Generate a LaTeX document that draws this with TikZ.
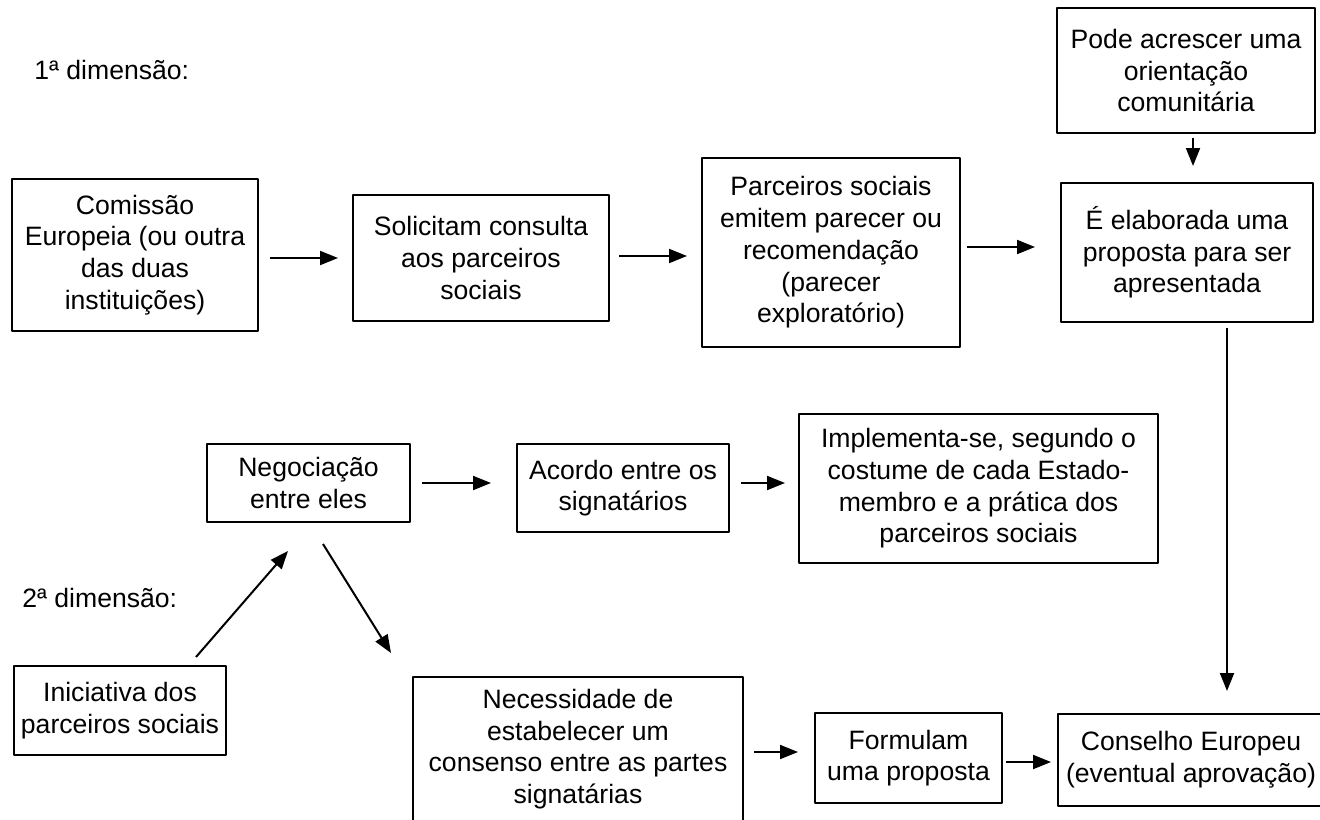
\documentclass[tikz,border=0pt]{standalone}
\usepackage{fontspec}
\setmainfont{Liberation Sans}
\usetikzlibrary{arrows.meta}

\tikzset{
  caixa/.style={draw, line width=1pt, align=center, inner sep=0pt, font=\fontsize{13.3}{15.85}\selectfont},
  seta/.style={->, line width=1pt},
  rotulo/.style={anchor=west, inner sep=0pt, font=\fontsize{13.3}{15.85}\selectfont}
}

\begin{document}
\begin{tikzpicture}[line join=round,>={Triangle[length=9pt,width=7pt]},x=0.5pt,y=-0.5pt]
\useasboundingbox (0,0) rectangle (1320,819);
\clip (0,0) rectangle (1320,819);
% 1a dimensao
\node[rotulo] (dim1) at (34,70) {1ª dimensão:};
\node[caixa, minimum width=123pt, minimum height=76pt] (comissao) at (135,255) {Comissão\\Europeia (ou outra\\das duas\\instituições)};
\node[caixa, minimum width=128pt, minimum height=63pt] (solicitam) at (481,258) {Solicitam consulta\\aos parceiros\\sociais};
\node[caixa, minimum width=129pt, minimum height=94.5pt] (parceiros) at (831,252.5) {Parceiros sociais\\emitem parecer ou\\recomendação\\(parecer\\exploratório)};
\node[caixa, minimum width=129pt, minimum height=62.5pt] (pode) at (1186,70.5) {Pode acrescer uma\\orientação\\comunitária};
\node[caixa, minimum width=126pt, minimum height=69.5pt] (elaborada) at (1187,252.5) {É elaborada uma\\proposta para ser\\apresentada};
% 2a dimensao
\node[rotulo] (dim2) at (22,598) {2ª dimensão:};
\node[caixa, minimum width=101.5pt, minimum height=39pt] (negociacao) at (308.5,483) {Negociação\\entre eles};
\node[caixa, minimum width=106pt, minimum height=44pt] (acordo) at (623,488) {Acordo entre os\\signatários};
\node[caixa, minimum width=179.5pt, minimum height=74.5pt] (implementa) at (978.5,488.5) {Implementa-se, segundo o\\costume de cada Estado-\\membro e a prática dos\\parceiros sociais};
\node[caixa, minimum width=106pt, minimum height=44.5pt] (iniciativa) at (120,710.5) {Iniciativa dos\\parceiros sociais};
\node[caixa, minimum width=165pt, minimum height=72pt] (necessidade) at (578,749) {Necessidade de\\estabelecer um\\consenso entre as partes\\signatárias};
\node[caixa, minimum width=93.5pt, minimum height=45pt] (formulam) at (908.5,758) {Formulam\\uma proposta};
\node[caixa, minimum width=133pt, minimum height=46pt] (conselho) at (1191,760) {Conselho Europeu\\(eventual aprovação)};
% setas
\draw[seta, shorten <=5.5pt, shorten >=7pt] (comissao.east |- solicitam.west) -- (solicitam.west);
\draw[seta, shorten <=4.5pt, shorten >=7pt] ([yshift=1pt]solicitam.east) -- ([yshift=1pt]solicitam.east -| parceiros.west);
\draw[seta, shorten <=3pt, shorten >=12.5pt] ([yshift=2.75pt]parceiros.east) -- ([yshift=2.75pt]parceiros.east -| elaborada.west);
\draw[seta, shorten <=2pt, shorten >=8pt] ([xshift=3.5pt]pode.south) -- ([xshift=3.5pt]pode.south |- elaborada.north);
\draw[seta, shorten <=2.5pt, shorten >=11pt] ([xshift=20pt]elaborada.south) -- ([xshift=20pt]elaborada.south |- conselho.north);
\draw[seta, shorten <=5.5pt, shorten >=12.5pt] (negociacao.east) -- (negociacao.east -| acordo.west);
\draw[seta, shorten <=5.5pt, shorten >=6.5pt] ([yshift=2.5pt]acordo.east) -- ([yshift=2.5pt]acordo.east -| implementa.west);
\draw[seta] ([xshift=38pt,yshift=4pt]iniciativa.north) -- ([xshift=-10.25pt,yshift=-14pt]negociacao.south);
\draw[seta] ([xshift=7.25pt,yshift=-10.5pt]negociacao.south) -- ([xshift=-10.5pt,yshift=11.5pt]necessidade.north west);
\draw[seta, shorten <=5pt, shorten >=8pt] ([yshift=3pt]formulam.west -| necessidade.east) -- ([yshift=3pt]formulam.west);
\draw[seta, shorten <=1.5pt, shorten >=3pt] ([yshift=-2pt]formulam.east) -- ([yshift=-2pt]formulam.east -| conselho.west);
\end{tikzpicture}
\end{document}
